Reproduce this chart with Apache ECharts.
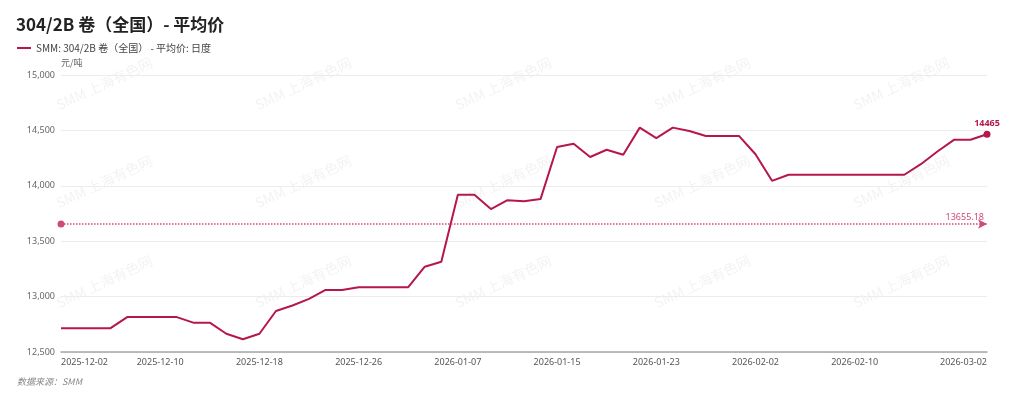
<!DOCTYPE html>
<html>
<head>
<meta charset="utf-8">
<script src="https://cdn.jsdelivr.net/npm/echarts@6/dist/echarts.min.js"></script>
<style>
html,body{margin:0;padding:0;background:#fff;}
#chart{width:1024px;height:399px;}
</style>
</head>
<body>
<div id="chart"></div>
<script>
const titleText = '304/2B 卷（全国）- 平均价';
const seriesName = 'SMM: 304/2B 卷（全国） - 平均价: 日度';
const unitName = '元/吨';
const sourceText = '数据来源：SMM';
const watermarkText = 'SMM 上海有色网';

const dates = [
  '2025-12-02','2025-12-03','2025-12-04','2025-12-05','2025-12-08','2025-12-09','2025-12-10','2025-12-11','2025-12-12',
  '2025-12-15','2025-12-16','2025-12-17','2025-12-18','2025-12-19','2025-12-22','2025-12-23','2025-12-24','2025-12-25',
  '2025-12-26','2025-12-29','2025-12-30','2025-12-31','2026-01-05','2026-01-06','2026-01-07','2026-01-08','2026-01-09',
  '2026-01-12','2026-01-13','2026-01-14','2026-01-15','2026-01-16','2026-01-19','2026-01-20','2026-01-21','2026-01-22',
  '2026-01-23','2026-01-26','2026-01-27','2026-01-28','2026-01-29','2026-01-30','2026-02-02','2026-02-03','2026-02-04',
  '2026-02-05','2026-02-06','2026-02-09','2026-02-10','2026-02-11','2026-02-12','2026-02-13','2026-02-24','2026-02-25',
  '2026-02-26','2026-02-27','2026-03-02'
];
const prices = [
  12715,12715,12715,12715,12815,12815,12815,12815,12765,
  12765,12665,12615,12665,12870,12920,12980,13060,13060,
  13085,13085,13085,13085,13270,13315,13920,13920,13790,
  13870,13860,13880,14350,14380,14260,14325,14280,14525,
  14430,14525,14495,14450,14450,14450,14285,14045,14100,
  14100,14100,14100,14100,14100,14100,14100,14195,14310,
  14415,14415,14465
];
const averageValue = 13655.18;
const yMin = 12500, yMax = 15000, yStep = 500;

const lineColor = '#b5174b';
const avgColor = '#cf4a74';

const last = prices.length - 1;
const seriesData = prices.map((v, i) => i === last ? {
  value: v, symbol: 'circle', symbolSize: 7,
  label: {show: true, position: 'top', distance: 3, color: lineColor, fontWeight: 'bold', fontSize: 9, formatter: '{c}'}
} : v);

// decorative watermark
const wm = [];
[112, 210, 310].forEach(y => {
  [60, 259, 459, 658, 857].forEach(x => {
    wm.push({type: 'text', x: x, y: y, rotation: 25 * Math.PI / 180, z: 0, silent: true,
      style: {text: watermarkText, fill: 'rgba(0,0,0,0.055)', font: '14px "Noto Sans CJK SC"', textVerticalAlign: 'bottom'}});
  });
});
wm.push({type: 'text', left: 17, top: 377, silent: true,
  style: {text: sourceText, fill: '#888', font: 'italic 9px "Noto Sans CJK SC"'}});

const chart = echarts.init(document.getElementById('chart'), null, {renderer: 'canvas'});
chart.setOption({
  animation: false,
  textStyle: {fontFamily: '"Noto Sans", "Noto Sans CJK SC", sans-serif'},
  title: {text: titleText, left: 11, top: 11, textStyle: {fontSize: 17, fontWeight: 'bold', color: '#222', fontFamily: '"Noto Sans CJK SC"'}},
  legend: {left: 12, top: 38, itemWidth: 14, itemHeight: 10, itemGap: 10,
    textStyle: {fontSize: 10, color: '#444', fontFamily: '"Noto Sans CJK SC"'},
    data: [{name: seriesName, icon: 'path://M0,4 L14,4 L14,6 L0,6 Z'}]},
  grid: {left: 61, right: 37, top: 75, bottom: 47, containLabel: false},
  graphic: wm,
  xAxis: {
    type: 'category', data: dates, boundaryGap: false,
    axisLine: {lineStyle: {color: '#a3a7b0', width: 1.5}},
    axisTick: {show: false},
    axisLabel: {color: '#555', fontSize: 9, margin: 6,
      interval: (i) => (i % 6 === 0 && i <= 48) || i === last,
      alignMinLabel: 'left', alignMaxLabel: 'right', showMinLabel: true, showMaxLabel: true},
    splitLine: {show: false}
  },
  yAxis: {
    type: 'value', min: yMin, max: yMax, interval: yStep,
    name: unitName, nameLocation: 'end', nameGap: 8,
    nameTextStyle: {color: '#666', fontSize: 9, align: 'left', fontFamily: '"Noto Sans CJK SC"'},
    axisLine: {show: false}, axisTick: {show: false},
    axisLabel: {color: '#666', fontSize: 9, margin: 6, formatter: v => v.toLocaleString('en-US')},
    splitLine: {lineStyle: {color: '#ececec', width: 1}}
  },
  series: [{
    name: seriesName, type: 'line', data: seriesData,
    symbol: 'none', showSymbol: true,
    lineStyle: {color: lineColor, width: 2},
    itemStyle: {color: lineColor},
    z: 3,
    markLine: {
      silent: true,
      symbol: ['circle', 'arrow'], symbolSize: [7, 9],
      lineStyle: {color: avgColor, type: 'dotted', width: 1.5},
      label: {position: 'insideEndTop', color: avgColor, fontSize: 9, distance: [3, 2], formatter: '{c}'},
      data: [{yAxis: averageValue}]
    }
  }]
});
</script>
</body>
</html>
